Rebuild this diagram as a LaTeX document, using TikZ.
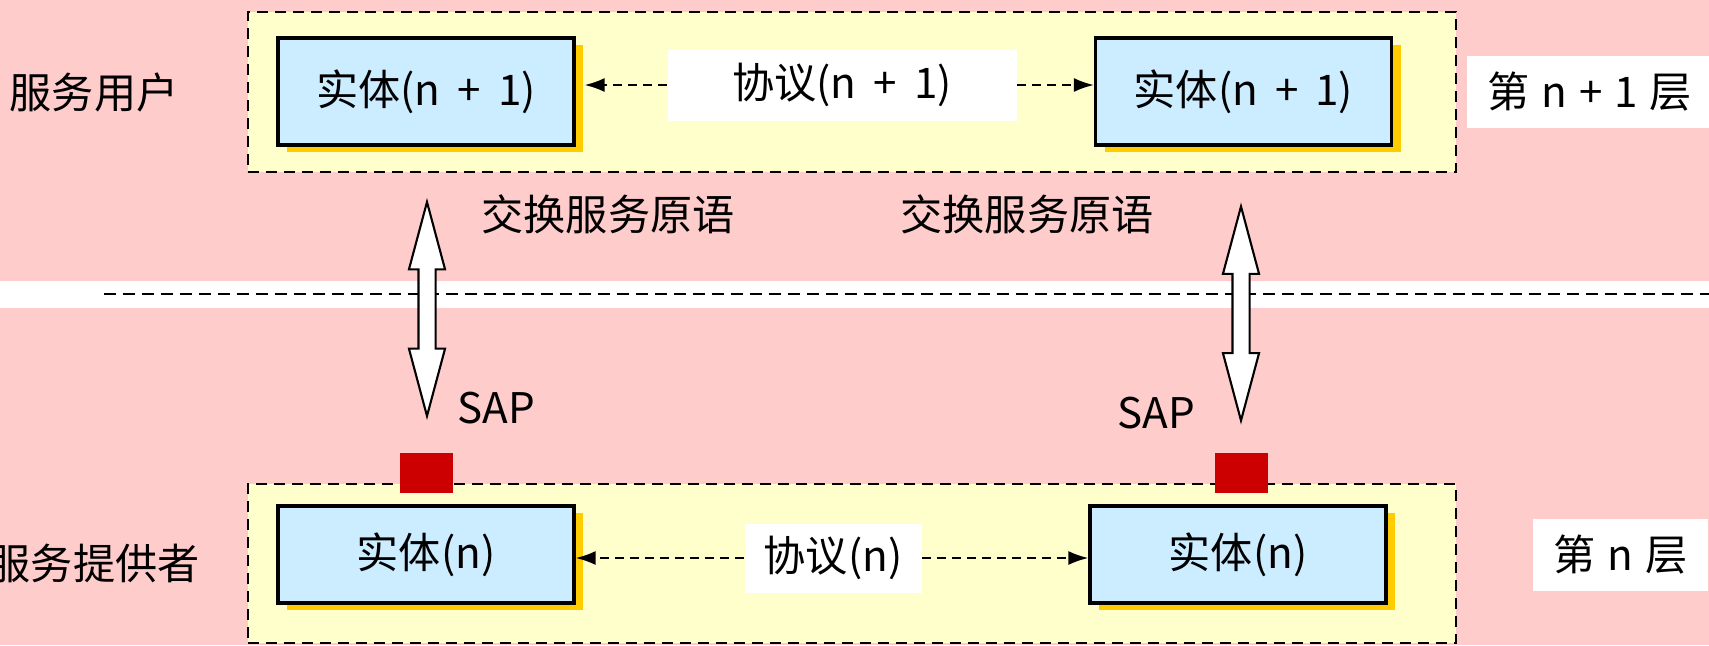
\documentclass[tikz,border=0pt]{standalone}
\usepackage{fontspec}
\setmainfont{Noto Sans CJK SC}[WordSpace=1.8]
\usepackage{xcolor}
\usepackage{tikz}
\usetikzlibrary{arrows.meta,positioning,calc,shapes.arrows,shadows}
\definecolor{Blush}{HTML}{FFCCCC}
\definecolor{Cream}{HTML}{FFFFCC}
\definecolor{Ice}{HTML}{CCECFF}
\definecolor{Amber}{HTML}{FFCC00}
\definecolor{Crimson}{HTML}{CC0000}

\begin{document}
\begin{tikzpicture}[x=0.1mm,y=-0.1mm,
  every node/.style={font=\fontsize{12}{14}\selectfont,align=center},
  layer/.style={draw,dash pattern=on 1.1mm off 0.7mm,line width=0.6pt,fill=Cream,minimum width=120.8mm},
  entity/.style={draw,line width=0.9pt,fill=Ice,minimum width=29.6mm,
    drop shadow={fill=Amber,opacity=1,shadow xshift=0.9mm,shadow yshift=-0.7mm}},
  tag/.style={fill=white,inner sep=0pt},
  layertag/.style={tag,inner xsep=2.1mm,minimum height=7.2mm,font={\fontsize{12}{14}\selectfont\spaceskip=0.28em\relax}},
  sap/.style={fill=Crimson,minimum width=5.3mm,minimum height=4mm,inner sep=0pt},
  updown/.style={double arrow,draw,fill=white,line width=0.6pt,inner sep=0.75mm,
    double arrow head extend=0.95mm,double arrow tip angle=30,shape border rotate=90,minimum height=21.4mm},
  arr/.style={-{Latex[length=2mm,width=1.4mm]},dash pattern=on 0.9mm off 0.6mm,line width=0.6pt}
]
\useasboundingbox (0,0) rectangle (1709,645);
\fill[Blush] (0,0) rectangle (1709,645);
\fill[white] (0,281) rectangle (1709,308);
\draw[dash pattern=on 1.2mm off 0.7mm,line width=0.6pt] (104,294) -- (1709,294);

% layer n+1
\node[layer,minimum height=16mm] (upper) at (852,92) {};
\node[entity,minimum height=10.7mm] (ent1) at (426,91.5) {实体(n + 1)};
\node[entity,minimum height=10.7mm] (ent2) at (1243.5,91.5) {实体(n + 1)};
\node[tag,minimum width=34.9mm,minimum height=7.1mm] (proto1) at (842,85) {协议(n + 1)};
\draw[arr] (proto1.west) -- ([xshift=0.9mm]proto1.west -| ent1.east);
\draw[arr] (proto1.east) -- (proto1.east -| ent2.west);
\node[anchor=west,inner sep=0pt] (user) at (9,92) {服务用户};
\node[layertag,right=0.9mm of upper] (lvl1) {第 n + 1 层};

% layer n
\node[layer,minimum height=15.9mm] (lower) at (852,563.5) {};
\node[entity,minimum height=9.7mm] (ent3) at (426,554.5) {实体(n)};
\node[entity,minimum height=9.7mm] (ent4) at (1238,554.5) {实体(n)};
\node[tag,minimum width=17.7mm,minimum height=6.9mm] (proto0) at (833,558) {协议(n)};
\draw[arr] (proto0.west) -- (proto0.west -| ent3.east);
\draw[arr] (proto0.east) -- (proto0.east -| ent4.west);
\node[anchor=west,inner sep=0pt] (provider) at (-12,563) {服务提供者};
\node[layertag,right=7.5mm of lower,yshift=0.85mm] (lvl0) {第 n 层};

% service access points
\node[sap] (sap1) at (426.5,473) {};
\node[sap] (sap2) at (1241,473) {};
\node (saptxt1) at (496,408) {SAP};
\node (saptxt2) at (1156,413) {SAP};
\node[updown] (swap1) at (427,309) {};
\node[updown] (swap2) at (1241,313.5) {};
\node (prim1) at (608,214) {交换服务原语};
\node (prim2) at (1027,214) {交换服务原语};
\end{tikzpicture}
\end{document}
